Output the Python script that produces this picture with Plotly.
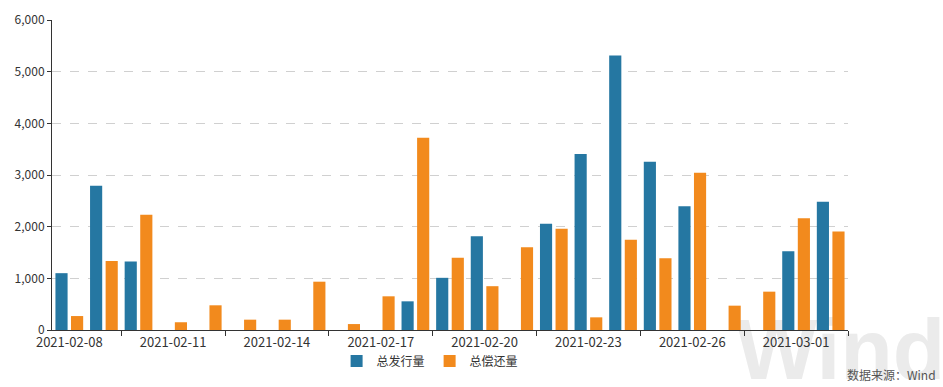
import plotly.graph_objects as go

dates = ["2021-02-08", "2021-02-09", "2021-02-10", "2021-02-11", "2021-02-12", "2021-02-13",
         "2021-02-14", "2021-02-15", "2021-02-16", "2021-02-17", "2021-02-18", "2021-02-19",
         "2021-02-20", "2021-02-21", "2021-02-22", "2021-02-23", "2021-02-24", "2021-02-25",
         "2021-02-26", "2021-02-27", "2021-02-28", "2021-03-01", "2021-03-02"]
issuance = [1100, 2790, 1325, 0, 0, 0, 0, 0, 0, 0, 555, 1010, 1815, 0, 2055, 3405, 5315,
            3255, 2395, 0, 0, 1525, 2480]
repayment = [270, 1335, 2230, 150, 478, 200, 200, 935, 115, 652, 3720, 1400, 848, 1602, 1962,
             245, 1745, 1390, 3043, 471, 742, 2165, 1905]
series_names = ["总发行量", "总偿还量"]
y_ticks = [0, 1000, 2000, 3000, 4000, 5000, 6000]
label_dates = dates[::3]

BLUE = "#2577a2"
ORANGE = "#f28a1d"
FONT = "Noto Sans CJK SC, Microsoft YaHei, sans-serif"

fig = go.Figure()
fig.add_trace(go.Bar(x=dates, y=issuance, name=series_names[0], marker_color=BLUE,
                     marker_line_width=0))
fig.add_trace(go.Bar(x=dates, y=repayment, name=series_names[1], marker_color=ORANGE,
                     marker_line_width=0))
# invisible helper trace carrying the category-boundary tick axis
n = len(dates)
boundary_ticks = [i + 1.5 for i in range(0, n, 3)]
fig.add_trace(go.Scatter(x=[-0.5, n - 0.5], y=[0, 0], xaxis="x2", mode="lines",
                         line=dict(width=0), showlegend=False, hoverinfo="skip"))

fig.update_layout(
    width=943, height=387,
    margin=dict(l=52, r=95, t=20, b=57, autoexpand=False),
    paper_bgcolor="white", plot_bgcolor="rgba(0,0,0,0)",
    font=dict(family=FONT, size=12, color="#333333"),
    barmode="group", bargap=0.1, bargroupgap=0.22,
    xaxis=dict(type="category", range=[-0.5, n - 0.5], tickmode="array",
               tickvals=label_dates, ticktext=label_dates, ticks="",
               showline=True, linecolor="#333333", linewidth=1, showgrid=False,
               tickfont=dict(size=13, color="#333333"), zeroline=False),
    xaxis2=dict(overlaying="x", anchor="y", side="bottom", range=[-0.5, n - 0.5],
                tickmode="array", tickvals=boundary_ticks, ticks="outside", ticklen=5,
                tickcolor="#333333", showticklabels=False, showgrid=False,
                showline=False, zeroline=False),
    yaxis=dict(range=[0, 6000], tickmode="array", tickvals=y_ticks, tickformat=",",
               ticks="outside", ticklen=4, tickcolor="#333333",
               showline=True, linecolor="#333333", linewidth=1,
               showgrid=True, gridcolor="#d0d0d0", griddash="dash", gridwidth=1,
               zeroline=False, tickfont=dict(size=12, color="#333333")),
    legend=dict(orientation="h", x=0.475, xanchor="center", y=-0.1, yanchor="middle",
                font=dict(size=12, color="#333333"), itemwidth=30, traceorder="normal"),
    showlegend=True,
)

# faint watermark behind the bars
fig.add_shape(type="rect", xref="paper", yref="paper",
              x0=(730 - 52) / 796, x1=(1000 - 52) / 796,
              y0=-0.035, y1=-0.035, line=dict(width=0), layer="below",
              label=dict(text="Wind", textposition="middle left",
                         font=dict(family="Liberation Sans, Arial", size=86,
                                   color="#ebebeb", weight="bold")))
fig.add_annotation(text="数据来源：Wind", xref="paper", yref="paper", x=1.113, y=-0.145,
                   xanchor="right", yanchor="middle", showarrow=False,
                   font=dict(family=FONT, size=12, color="#555555"))

fig.write_html("out.html", config={"displayModeBar": False},
               post_script="document.body.style.margin='0';")
